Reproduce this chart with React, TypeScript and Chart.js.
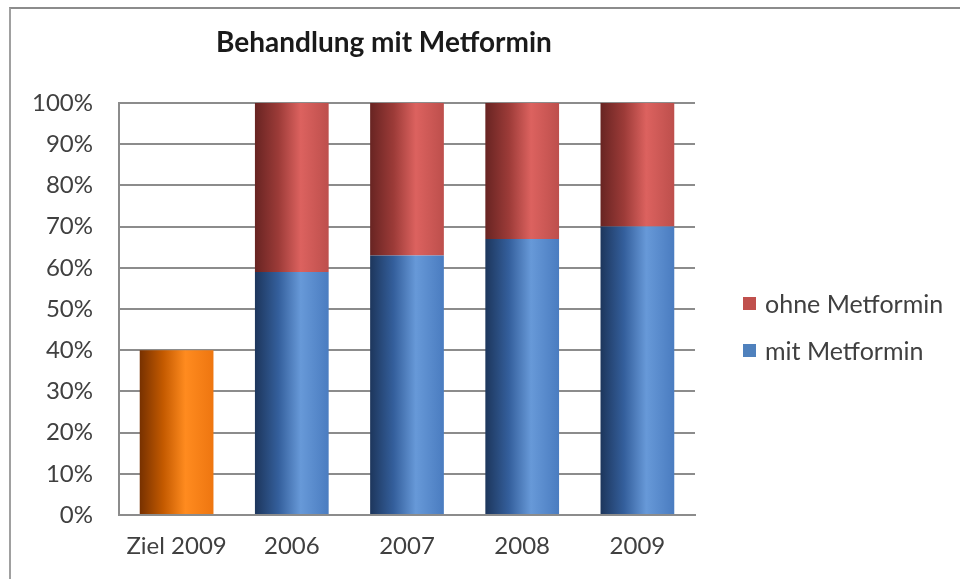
import React, { useEffect, useRef } from "react";
import { Chart, registerables } from "chart.js";

Chart.register(...registerables);

const categories = ["Ziel 2009", "2006", "2007", "2008", "2009"];
const zielValues = [40, null, null, null, null];
const mitValues = [null, 59, 63, 67, 70];
const ohneValues = [null, 41, 37, 33, 30];
const yTicks = [0, 10, 20, 30, 40, 50, 60, 70, 80, 90, 100];

const seriesNames = { mit: "mit Metformin", ohne: "ohne Metformin", ziel: "Ziel 2009" };
const title = "Behandlung mit Metformin";

const FONT = "Lato, 'Open Sans', sans-serif";
const BAR_PCT = 0.64;

const stops = {
  blue: ["#1d365c", "#345f9c", "#6799d8", "#4a7cc0"],
  red: ["#682422", "#9c3b38", "#dc625f", "#bd4f4c"],
  orange: ["#773100", "#c45a00", "#ff8b1f", "#ee7610"],
};

function gradientFor(key: keyof typeof stops, solid: string) {
  return (ctx: any) => {
    const chart = ctx.chart;
    const xs = chart.scales && chart.scales.x;
    if (!chart.chartArea || !xs) return solid;
    const cx = xs.getPixelForValue(ctx.dataIndex);
    const w = (xs.width / categories.length) * BAR_PCT;
    const g = chart.ctx.createLinearGradient(cx - w / 2, 0, cx + w / 2, 0);
    const s = stops[key];
    g.addColorStop(0, s[0]);
    g.addColorStop(0.32, s[1]);
    g.addColorStop(0.62, s[2]);
    g.addColorStop(1, s[3]);
    return g;
  };
}

export default function App() {
  const ref = useRef<HTMLCanvasElement>(null);

  useEffect(() => {
    if (!ref.current) return;
    const chart = new Chart(ref.current, {
      type: "bar",
      data: {
        labels: categories,
        datasets: [
          { label: seriesNames.ziel, data: zielValues, backgroundColor: gradientFor("orange", "#f07810"), stack: "s" },
          { label: seriesNames.mit, data: mitValues, backgroundColor: gradientFor("blue", "#4f81bd"), stack: "s" },
          { label: seriesNames.ohne, data: ohneValues, backgroundColor: gradientFor("red", "#c0504d"), stack: "s" },
        ],
      },
      options: {
        animation: false,
        responsive: false,
        layout: { padding: { left: 0, right: 265, top: 103, bottom: 0 } },
        datasets: { bar: { categoryPercentage: 1, barPercentage: BAR_PCT } },
        plugins: {
          legend: { display: false },
          title: { display: false },
          tooltip: { enabled: false },
        },
        scales: {
          x: {
            stacked: true,
            grid: { display: false, drawTicks: false },
            border: { color: "#8c8c8c", width: 2 },
            ticks: { color: "#404040", font: { family: FONT, size: 24 }, padding: 17 },
            afterFit: (s: any) => { s.height = 579 - 515; },
          },
          y: {
            stacked: true,
            min: 0,
            max: 100,
            afterBuildTicks: (s: any) => { s.ticks = yTicks.map((v) => ({ value: v })); },
            grid: { color: "#8c8c8c", lineWidth: 2, drawTicks: false },
            border: { color: "#8c8c8c", width: 2 },
            ticks: {
              color: "#404040",
              font: { family: FONT, size: 24 },
              padding: 26,
              callback: (v: any) => `${v}%`,
            },
            afterFit: (s: any) => { s.width = 119; },
          },
        },
      },
    });
    return () => chart.destroy();
  }, []);

  const legendItems = [
    { label: seriesNames.ohne, color: "#c0504d", top: 296 },
    { label: seriesNames.mit, color: "#4f81bd", top: 343 },
  ];

  return (
    <div style={{ position: "absolute", left: 0, top: 0, width: 960, height: 579, background: "#fff", overflow: "hidden" }}>
      <div style={{ position: "absolute", left: 9, top: 7, width: 960, height: 580, borderTop: "2px solid #8c8c8c", borderLeft: "2px solid #a0a0a0" }} />
      <canvas ref={ref} width={960} height={579} style={{ position: "absolute", left: 0, top: 0 }} />
      <div style={{ position: "absolute", left: 134, width: 500, top: 25, textAlign: "center", fontFamily: FONT, fontWeight: 700, fontSize: 28, color: "#1a1a1a", lineHeight: "32px" }}>
        {title}
      </div>
      {legendItems.map((it) => (
        <div key={it.label} style={{ position: "absolute", left: 743, top: it.top - 8, height: 30, display: "flex", alignItems: "center", fontFamily: FONT, fontSize: 25, color: "#404040" }}>
          <span style={{ display: "inline-block", width: 13, height: 13, background: it.color, marginRight: 9 }} />
          <span>{it.label}</span>
        </div>
      ))}
    </div>
  );
}
